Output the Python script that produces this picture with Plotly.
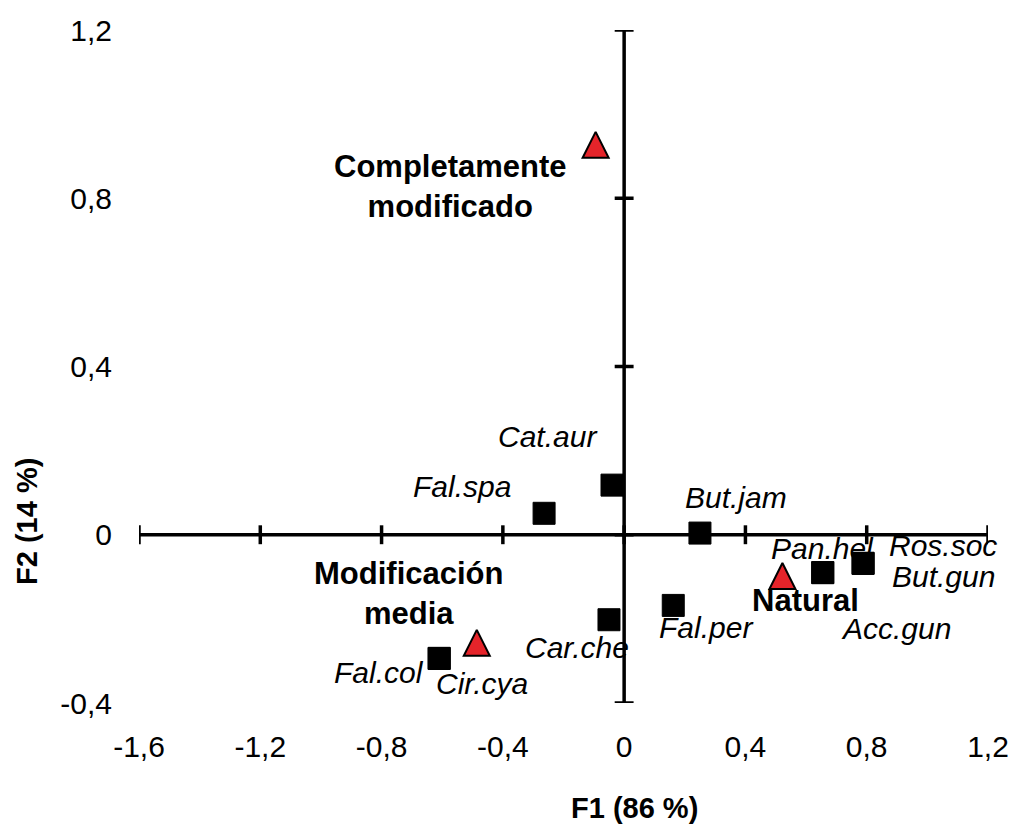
import plotly.graph_objects as go

# Species scores on the first two factors (F1, F2)
species = ["Cat.aur", "Fal.spa", "But.jam", "Car.che", "Fal.per", "Pan.hel",
           "Ros.soc", "But.gun", "Acc.gun", "Fal.col", "Cir.cya"]
species_f1 = [-0.04, -0.264, 0.25, -0.05, 0.162, 0.655, 0.788, 0.788, 0.655, -0.61, -0.61]
species_f2 = [0.118, 0.051, 0.004, -0.202, -0.168, -0.09, -0.068, -0.068, -0.09, -0.294, -0.294]
# label placement relative to each marker, in pixels
species_dx = [-65, -82, 36, -32, 33, 0, 80, 80, 73, -60, 43]
species_dy = [49, 27, 36, -28, -22, 24, 18, -13, -56, -14, -25]

# Habitat modification categories
habitats = ["Completamente<br>modificado", "Modificación<br>media", "Natural"]
habitat_f1 = [-0.094, -0.486, 0.522]
habitat_f2 = [0.927, -0.257, -0.098]
habitat_dx = [-145, -68, 23]
habitat_dy = [-42, 49, -25]

# Axis ticks
x_ticks = [-1.6, -1.2, -0.8, -0.4, 0, 0.4, 0.8, 1.2]
x_ticktext = ["-1,6", "-1,2", "-0,8", "-0,4", "0", "0,4", "0,8", "1,2"]
y_ticks = [-0.4, 0, 0.4, 0.8, 1.2]
y_ticktext = ["-0,4", "0", "0,4", "0,8", "1,2"]

FONT = "Liberation Sans, Arial, sans-serif"
RED = "#E5242A"

fig = go.Figure()

# Cross-shaped axes through the origin
fig.add_shape(type="line", x0=min(x_ticks), x1=max(x_ticks), y0=0, y1=0,
              line=dict(color="black", width=3.5), layer="below")
fig.add_shape(type="line", x0=0, x1=0, y0=min(y_ticks), y1=max(y_ticks),
              line=dict(color="black", width=3.5), layer="below")

# Tick marks crossing the axes
fig.add_trace(go.Scatter(
    x=x_ticks, y=[0] * len(x_ticks), mode="markers", hoverinfo="skip",
    marker=dict(symbol="line-ns", size=13.5, line=dict(color="black", width=3.5)),
    showlegend=False))
fig.add_trace(go.Scatter(
    x=[0] * len(y_ticks), y=y_ticks, mode="markers", hoverinfo="skip",
    marker=dict(symbol="line-ew", size=13.5, line=dict(color="black", width=3.5)),
    showlegend=False))

# Species
fig.add_trace(go.Scatter(
    x=species_f1, y=species_f2, mode="markers", name="Especies",
    marker=dict(symbol="square", size=22, color="black",
                line=dict(color="black", width=1)),
    showlegend=False))

# Habitat categories (upward triangles centred on the point)
fig.add_trace(go.Scatter(
    x=habitat_f1, y=habitat_f2, mode="markers", name="Hábitat",
    marker=dict(symbol="arrow-down", angle=180, standoff=13, size=26, color=RED,
                line=dict(color="black", width=2)),
    showlegend=False))

for name, x, y, dx, dy in zip(species, species_f1, species_f2, species_dx, species_dy):
    fig.add_annotation(x=x, y=y, text=f"<i>{name}</i>", showarrow=False,
                       xshift=dx, yshift=dy,
                       font=dict(family=FONT, size=30, color="black"))

for name, x, y, dx, dy in zip(habitats, habitat_f1, habitat_f2, habitat_dx, habitat_dy):
    fig.add_annotation(x=x, y=y, text=f"<b>{name}</b>", showarrow=False,
                       xshift=dx, yshift=dy, align="center",
                       font=dict(family=FONT, size=31, color="black"))

# Axis titles
fig.add_annotation(xref="paper", yref="paper", x=0.584, y=0, yshift=-105,
                   xanchor="center", yanchor="middle",
                   text="<b>F1 (86 %)</b>", showarrow=False,
                   font=dict(family=FONT, size=29, color="black"))
fig.add_annotation(xref="paper", yref="paper", x=0, y=0.269, xshift=-112,
                   xanchor="center", yanchor="middle",
                   text="<b>F2 (14 %)</b>", showarrow=False, textangle=-90,
                   font=dict(family=FONT, size=29, color="black"))

fig.update_layout(
    width=1014, height=829,
    margin=dict(l=139, r=26, t=30, b=126),
    plot_bgcolor="white", paper_bgcolor="white",
    font=dict(family=FONT, size=30, color="black"),
    xaxis=dict(range=[min(x_ticks), max(x_ticks)], tickvals=x_ticks, ticktext=x_ticktext,
               showgrid=False, zeroline=False, showline=False, ticks="", automargin=False,
               ticklabelstandoff=23, tickfont=dict(size=30)),
    yaxis=dict(range=[min(y_ticks), max(y_ticks)], tickvals=y_ticks, ticktext=y_ticktext,
               showgrid=False, zeroline=False, showline=False, ticks="", automargin=False,
               ticklabelstandoff=26, tickfont=dict(size=30)),
)

fig.write_html("out.html")
